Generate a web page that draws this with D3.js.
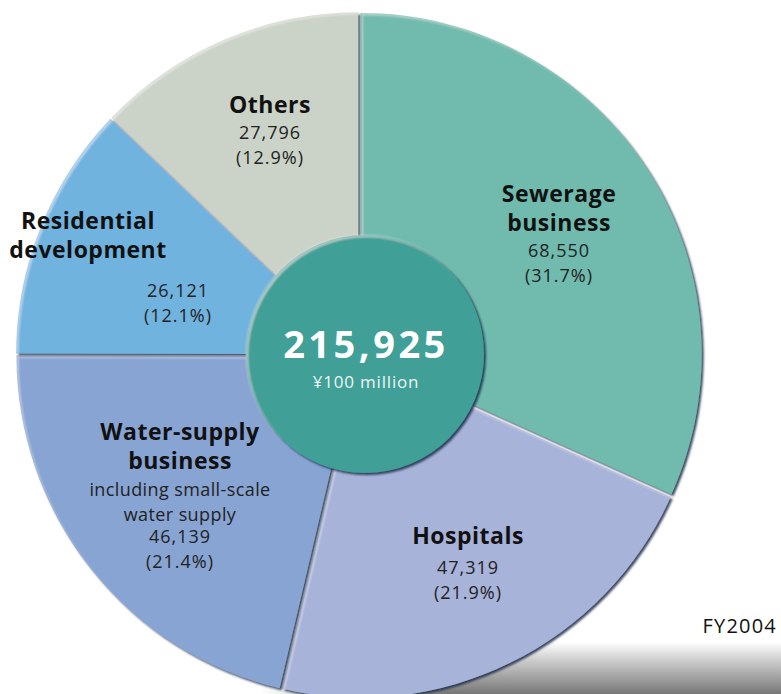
<!DOCTYPE html>
<html>
<head>
<meta charset="utf-8">
<script src="https://cdn.jsdelivr.net/npm/d3@7"></script>
<style>
  html, body { margin: 0; padding: 0; background: #fff; }
  svg { display: block; font-family: "Open Sans", "Noto Sans", sans-serif; }
  .lbl { font-weight: 700; font-size: 23px; fill: #111; letter-spacing: 0.5px; }
  .num { font-size: 18px; fill: #222; letter-spacing: 1px; }
  .sub { font-size: 18px; fill: #222; letter-spacing: 0.4px; }
</style>
</head>
<body>
<svg id="chart"></svg>
<script>
var categories = ['Sewerage business', 'Hospitals', 'Water-supply business', 'Residential development', 'Others'];
var values = [68550, 47319, 46139, 26121, 27796];
var shares = ['31.7%', '21.9%', '21.4%', '12.1%', '12.9%'];
var titleLines = [['Sewerage', 'business'], ['Hospitals'], ['Water-supply', 'business'], ['Residential', 'development'], ['Others']];
var noteLines = [[], [], ['including small-scale', 'water supply'], [], []];
var totalLabel = '215,925';
var unitLabel = '\u00a5100 million';
var yearLabel = 'FY2004';

var colors = ['#6fbbae', '#a8b3d9', '#87a4d3', '#70b3df', '#cbd2c7'];

// hand placed label anchors: title x / first baseline, numbers x / baseline
var labelPos = [
    {x: 559, y: 202, nx: 559, ny: 257},
    {x: 468, y: 544, nx: 468, ny: 574},
    {x: 180, y: 440, nx: 180, ny: 543},
    {x: 88,  y: 229, nx: 178, ny: 297},
    {x: 270, y: 113, nx: 270, ny: 139}
];

var W = 781, H = 694;
var cx = 359, cy = 355, R = 341, explode = 2;

var svg = d3.select('#chart').attr('width', W).attr('height', H);
var defs = svg.append('defs');

var sg = defs.append('linearGradient').attr('id', 'shadowV').attr('x1', 0).attr('y1', 0).attr('x2', 0).attr('y2', 1);
sg.append('stop').attr('offset', '0%').attr('stop-color', '#fff');
sg.append('stop').attr('offset', '30%').attr('stop-color', '#d4d4d4');
sg.append('stop').attr('offset', '100%').attr('stop-color', '#777');
var mg = defs.append('linearGradient').attr('id', 'shadowH').attr('x1', 0).attr('y1', 0).attr('x2', 1).attr('y2', 0);
mg.append('stop').attr('offset', '0%').attr('stop-color', '#fff').attr('stop-opacity', 0);
mg.append('stop').attr('offset', '35%').attr('stop-color', '#fff').attr('stop-opacity', 1);
mg.append('stop').attr('offset', '100%').attr('stop-color', '#fff').attr('stop-opacity', 1);
defs.append('mask').attr('id', 'shadowMask').append('rect')
    .attr('x', 260).attr('y', 642).attr('width', 521).attr('height', 52).attr('fill', 'url(#shadowH)');

var f = defs.append('filter').attr('id', 'bevel').attr('x', '-10%').attr('y', '-10%').attr('width', '120%').attr('height', '120%');
f.append('feGaussianBlur').attr('in', 'SourceAlpha').attr('stdDeviation', 1.2).attr('result', 'b');
f.append('feOffset').attr('in', 'b').attr('dx', 1.8).attr('dy', 1.8).attr('result', 'o');
f.append('feFlood').attr('flood-color', '#1c2c48').attr('flood-opacity', 0.85);
f.append('feComposite').attr('in2', 'o').attr('operator', 'in').attr('result', 'sh');
f.append('feOffset').attr('in', 'SourceAlpha').attr('dx', 2).attr('dy', 2).attr('result', 'o2');
f.append('feComposite').attr('in', 'SourceAlpha').attr('in2', 'o2').attr('operator', 'out').attr('result', 'hl0');
f.append('feGaussianBlur').attr('in', 'hl0').attr('stdDeviation', 0.8).attr('result', 'hl1');
f.append('feFlood').attr('flood-color', '#ffffff').attr('flood-opacity', 0.45);
f.append('feComposite').attr('in2', 'hl1').attr('operator', 'in').attr('result', 'hl');
var fm = f.append('feMerge');
fm.append('feMergeNode').attr('in', 'sh');
fm.append('feMergeNode').attr('in', 'SourceGraphic');
fm.append('feMergeNode').attr('in', 'hl');

// ground shadow
svg.append('rect').attr('x', 260).attr('y', 642).attr('width', 521).attr('height', 52)
    .attr('fill', 'url(#shadowV)').attr('mask', 'url(#shadowMask)');

var pie = d3.pie().sort(null).value(function(d) { return d; });
var arcs = pie(values);
var arc = d3.arc().innerRadius(0).outerRadius(R);

var g = svg.append('g').attr('transform', 'translate(' + cx + ',' + cy + ')');
g.selectAll('path.slice').data(arcs).enter().append('path')
    .attr('class', 'slice')
    .attr('d', arc)
    .attr('fill', function(d, i) { return colors[i]; })
    .attr('filter', 'url(#bevel)')
    .attr('transform', function(d) {
        var a = (d.startAngle + d.endAngle) / 2;
        return 'translate(' + (Math.sin(a) * explode) + ',' + (-Math.cos(a) * explode) + ')';
    });

// centre disc
svg.append('circle').attr('cx', 365).attr('cy', 354).attr('r', 119)
    .attr('fill', '#3f9f96').attr('filter', 'url(#bevel)');
svg.append('text').attr('x', 366).attr('y', 358).attr('text-anchor', 'middle')
    .style('font-weight', 700).style('font-size', '38px').style('fill', '#fff').style('letter-spacing', '3.5px')
    .text(totalLabel);
svg.append('text').attr('x', 366).attr('y', 388).attr('text-anchor', 'middle')
    .style('font-size', '17px').style('fill', '#eef6f4').style('letter-spacing', '0.8px')
    .text(unitLabel);

// slice labels
categories.forEach(function(c, i) {
    var p = labelPos[i];
    var t = svg.append('g');
    titleLines[i].forEach(function(line, k) {
        t.append('text').attr('class', 'lbl').attr('x', p.x).attr('y', p.y + k * 29)
            .attr('text-anchor', 'middle').text(line);
    });
    var noteStart = p.y + titleLines[i].length * 29 - 2;
    noteLines[i].forEach(function(line, k) {
        t.append('text').attr('class', 'sub').attr('x', p.nx).attr('y', noteStart + k * 25)
            .attr('text-anchor', 'middle').text(line);
    });
    t.append('text').attr('class', 'num').attr('x', p.nx).attr('y', p.ny)
        .attr('text-anchor', 'middle').text(d3.format(',')(values[i]));
    t.append('text').attr('class', 'num').attr('x', p.nx).attr('y', p.ny + 25)
        .attr('text-anchor', 'middle').text('(' + shares[i] + ')');
});

svg.append('text').attr('x', 777).attr('y', 633).attr('text-anchor', 'end')
    .style('font-size', '20px').style('fill', '#111').style('letter-spacing', '1.2px').text(yearLabel);
</script>
</body>
</html>
